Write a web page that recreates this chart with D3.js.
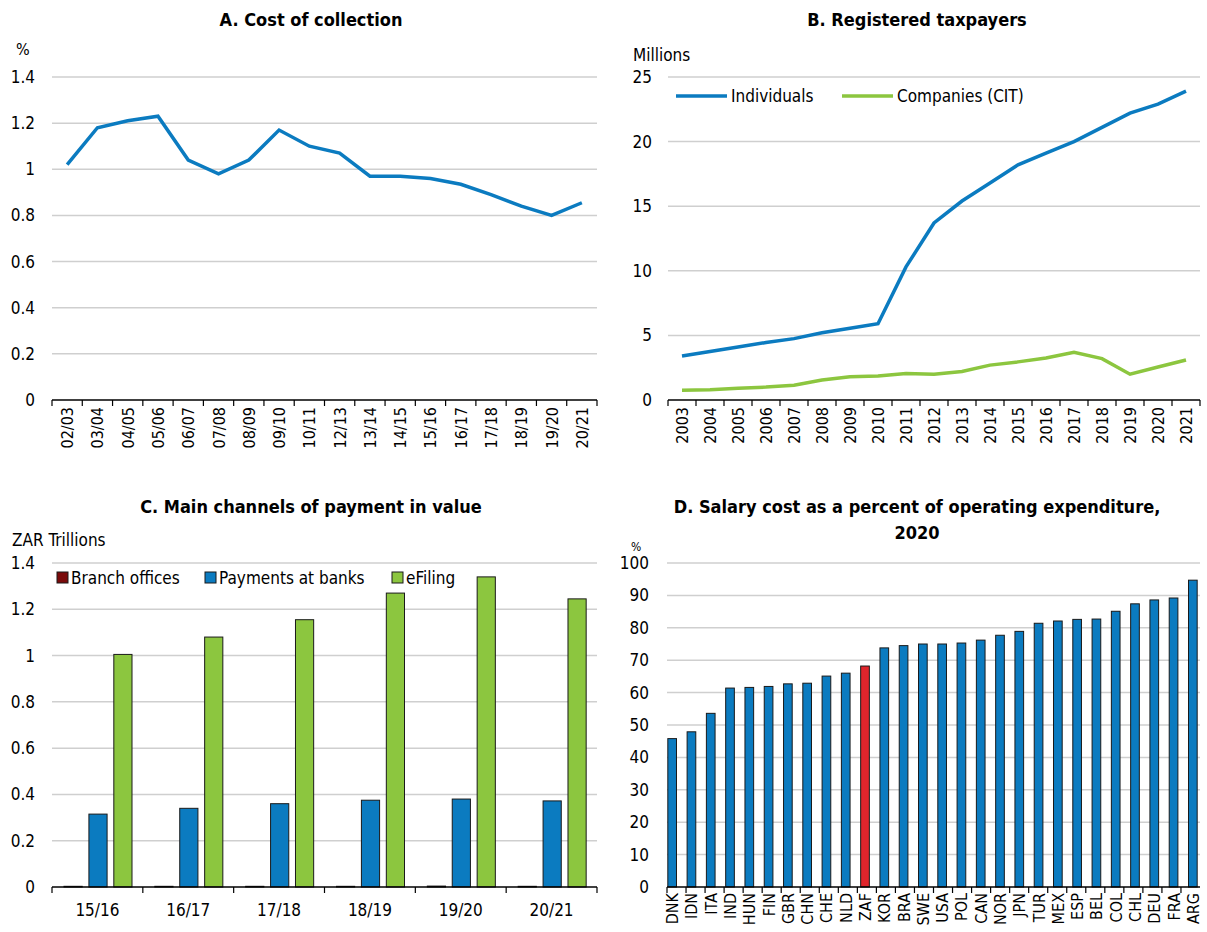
<!DOCTYPE html>
<html>
<head>
<meta charset="utf-8">
<script src="https://cdn.jsdelivr.net/npm/d3@7"></script>
<style>
body { margin: 0; background: #fff; }
text { font-family: "Liberation Sans Narrow", "Arial Narrow", "DejaVu Sans Condensed", Arial, sans-serif; fill: #000; }
</style>
</head>
<body>
<svg id="svg1"></svg>
<script>
// Panel A: cost of collection (%)
const periodsA = ['02/03','03/04','04/05','05/06','06/07','07/08','08/09','09/10','10/11','12/13','13/14','14/15','15/16','16/17','17/18','18/19','19/20','20/21'];
const costCollection = [1.02, 1.18, 1.21, 1.23, 1.04, 0.98, 1.04, 1.17, 1.10, 1.07, 0.97, 0.97, 0.96, 0.935, 0.89, 0.84, 0.80, 0.855];
const ticksA = [0, 0.2, 0.4, 0.6, 0.8, 1, 1.2, 1.4];

// Panel B: registered taxpayers (millions)
const yearsB = ['2003','2004','2005','2006','2007','2008','2009','2010','2011','2012','2013','2014','2015','2016','2017','2018','2019','2020','2021'];
const individuals = [3.4, 3.75, 4.1, 4.45, 4.75, 5.2, 5.55, 5.9, 10.3, 13.7, 15.4, 16.8, 18.2, 19.1, 20.0, 21.1, 22.2, 22.9, 23.9];
const companies = [0.75, 0.8, 0.9, 1.0, 1.15, 1.55, 1.8, 1.85, 2.05, 2.0, 2.2, 2.7, 2.95, 3.25, 3.7, 3.2, 2.0, 2.55, 3.1];
const ticksB = [0, 5, 10, 15, 20, 25];

// Panel C: payment channels (ZAR trillions)
const periodsC = ['15/16','16/17','17/18','18/19','19/20','20/21'];
const channelNames = ['Branch offices', 'Payments at banks', 'eFiling'];
const branchOffices = [0.003, 0.003, 0.003, 0.003, 0.004, 0.003];
const paymentsAtBanks = [0.315, 0.34, 0.36, 0.375, 0.38, 0.372];
const eFiling = [1.005, 1.08, 1.155, 1.27, 1.34, 1.245];
const ticksC = [0, 0.2, 0.4, 0.6, 0.8, 1, 1.2, 1.4];

// Panel D: salary cost share, 2020 (%)
const countriesD = ['DNK','IDN','ITA','IND','HUN','FIN','GBR','CHN','CHE','NLD','ZAF','KOR','BRA','SWE','USA','POL','CAN','NOR','JPN','TUR','MEX','ESP','BEL','COL','CHL','DEU','FRA','ARG'];
const salaryShare = [45.8, 47.9, 53.6, 61.4, 61.6, 61.9, 62.7, 62.9, 65.1, 66.0, 68.2, 73.8, 74.5, 75.0, 75.0, 75.3, 76.2, 77.7, 78.9, 81.4, 82.1, 82.6, 82.7, 85.1, 87.4, 88.6, 89.2, 94.7];
const ticksD = [0, 10, 20, 30, 40, 50, 60, 70, 80, 90, 100];

const blue = '#0b7bc0';
const green = '#8cc63f';
const red = '#e0252c';
const darkRed = '#7a0a0a';
const gridColor = '#cfcfcf';

const svg = d3.select('#svg1')
    .attr('width', 1207)
    .attr('height', 932);

function title(x, y, txt) {
    svg.append('text')
        .attr('x', x).attr('y', y)
        .attr('text-anchor', 'middle')
        .style('font-size', '18px')
        .style('font-weight', 'bold')
        .text(txt);
}

function yGrid(y, ticks, x0, x1, labelX, fmt) {
    for (const t of ticks) {
        if (t !== 0) {
            svg.append('line')
                .attr('x1', x0).attr('x2', x1)
                .attr('y1', y(t)).attr('y2', y(t))
                .style('stroke', gridColor)
                .style('stroke-width', 1.5);
        }
        svg.append('text')
            .attr('x', labelX).attr('y', y(t))
            .attr('dy', '0.35em')
            .attr('text-anchor', 'end')
            .style('font-size', '17px')
            .text(fmt ? fmt(t) : t);
    }
}

function xAxis(x, yBase, rotate, labelY) {
    const [r0, r1] = x.range();
    svg.append('line')
        .attr('x1', r0).attr('x2', r1)
        .attr('y1', yBase).attr('y2', yBase)
        .style('stroke', '#000').style('stroke-width', 1.5);
    const bounds = x.domain().map(d => x(d)).concat([r1]);
    for (const b of bounds) {
        svg.append('line')
            .attr('x1', b).attr('x2', b)
            .attr('y1', yBase).attr('y2', yBase + 6)
            .style('stroke', '#000').style('stroke-width', 1.2);
    }
    for (const d of x.domain()) {
        const cx = x(d) + x.bandwidth() / 2;
        if (rotate) {
            svg.append('text')
                .attr('transform', 'translate(' + (cx + 6) + ',' + labelY + ') rotate(-90)')
                .attr('text-anchor', 'end')
                .style('font-size', '16px')
                .text(d);
        } else {
            svg.append('text')
                .attr('x', cx).attr('y', labelY)
                .attr('text-anchor', 'middle')
                .style('font-size', '17px')
                .text(d);
        }
    }
}

// ---- Panel A ----
title(311, 26, 'A. Cost of collection');
svg.append('text').attr('x', 16).attr('y', 55).style('font-size', '16px').text('%');
const xA = d3.scaleBand().domain(periodsA).range([52, 597]);
const yA = d3.scaleLinear().domain([0, 1.4]).range([400, 77]);
yGrid(yA, ticksA, 52, 597, 35);
xAxis(xA, 400, true, 407);
svg.append('path')
    .datum(costCollection)
    .attr('d', d3.line()
        .x((d, i) => xA(periodsA[i]) + xA.bandwidth() / 2)
        .y(d => yA(d)))
    .style('fill', 'none')
    .style('stroke', blue)
    .style('stroke-width', 3.5);

// ---- Panel B ----
title(917, 26, 'B. Registered taxpayers');
svg.append('text').attr('x', 633).attr('y', 61).style('font-size', '17px').text('Millions');
const xB = d3.scaleBand().domain(yearsB).range([668, 1200]);
const yB = d3.scaleLinear().domain([0, 25]).range([400, 77]);
yGrid(yB, ticksB, 668, 1200, 652);
xAxis(xB, 400, true, 407);
const lineB = d3.line()
    .x((d, i) => xB(yearsB[i]) + xB.bandwidth() / 2)
    .y(d => yB(d));
svg.append('path').datum(companies).attr('d', lineB)
    .style('fill', 'none').style('stroke', green).style('stroke-width', 3.5);
svg.append('path').datum(individuals).attr('d', lineB)
    .style('fill', 'none').style('stroke', blue).style('stroke-width', 3.5);
const legendB = [['Individuals', blue, 676], ['Companies (CIT)', green, 842]];
for (const [name, col, lx] of legendB) {
    svg.append('line').attr('x1', lx).attr('x2', lx + 51).attr('y1', 96).attr('y2', 96)
        .style('stroke', col).style('stroke-width', 3.5);
    svg.append('text').attr('x', lx + 55).attr('y', 102).style('font-size', '17px').text(name);
}

// ---- Panel C ----
title(311, 513, 'C. Main channels of payment in value');
svg.append('text').attr('x', 12).attr('y', 546).style('font-size', '17px').text('ZAR Trillions');
const xC = d3.scaleBand().domain(periodsC).range([52, 597]);
const xC1 = d3.scaleBand().domain(channelNames).range([12, 80]).paddingInner(0.27);
const yC = d3.scaleLinear().domain([0, 1.4]).range([887, 563]);
yGrid(yC, ticksC, 52, 597, 35);
const seriesC = [
    { name: channelNames[0], values: branchOffices, color: darkRed },
    { name: channelNames[1], values: paymentsAtBanks, color: blue },
    { name: channelNames[2], values: eFiling, color: green }
];
for (const s of seriesC) {
    svg.append('g').selectAll('rect')
        .data(s.values)
        .join('rect')
        .attr('x', (d, i) => xC(periodsC[i]) + xC1(s.name))
        .attr('width', xC1.bandwidth())
        .attr('y', d => yC(d))
        .attr('height', d => yC(0) - yC(d))
        .style('fill', s.color)
        .style('stroke', '#1a1a1a')
        .style('stroke-width', 1);
}
xAxis(xC, 887, false, 916);
const legendC = [[seriesC[0], 57], [seriesC[1], 205], [seriesC[2], 392]];
for (const [s, lx] of legendC) {
    svg.append('rect').attr('x', lx).attr('y', 572).attr('width', 11).attr('height', 11)
        .style('fill', s.color).style('stroke', '#1a1a1a').style('stroke-width', 1);
    svg.append('text').attr('x', lx + 14).attr('y', 584).style('font-size', '17px').text(s.name);
}

// ---- Panel D ----
title(917, 513, 'D. Salary cost as a percent of operating expenditure,');
title(917, 539, '2020');
svg.append('text').attr('x', 631).attr('y', 551).style('font-size', '12px').text('%');
const xD = d3.scaleBand().domain(countriesD).range([663, 1202]).paddingInner(0.55).paddingOuter(0.25);
const yD = d3.scaleLinear().domain([0, 100]).range([887, 563]);
yGrid(yD, ticksD, 667, 1200, 649);
svg.append('g').selectAll('rect')
    .data(salaryShare)
    .join('rect')
    .attr('x', (d, i) => xD(countriesD[i]))
    .attr('width', xD.bandwidth())
    .attr('y', d => yD(d))
    .attr('height', d => yD(0) - yD(d))
    .style('fill', (d, i) => countriesD[i] === 'ZAF' ? red : blue)
    .style('stroke', '#1a1a1a')
    .style('stroke-width', 1);
// x axis for D: ticks between countries
const xDAxis = d3.scaleBand().domain(countriesD).range([667, 1200]);
{
    svg.append('line').attr('x1', 667).attr('x2', 1200).attr('y1', 887).attr('y2', 887)
        .style('stroke', '#000').style('stroke-width', 1.5);
    for (const c of countriesD) {
        const b = xDAxis(c);
        svg.append('line').attr('x1', b).attr('x2', b).attr('y1', 887).attr('y2', 893)
            .style('stroke', '#000').style('stroke-width', 1.2);
        const cx = xD(c) + xD.bandwidth() / 2;
        svg.append('text')
            .attr('transform', 'translate(' + (cx + 6) + ',893) rotate(-90)')
            .attr('text-anchor', 'end')
            .style('font-size', '16px')
            .text(c);
    }
}
</script>
</body>
</html>
